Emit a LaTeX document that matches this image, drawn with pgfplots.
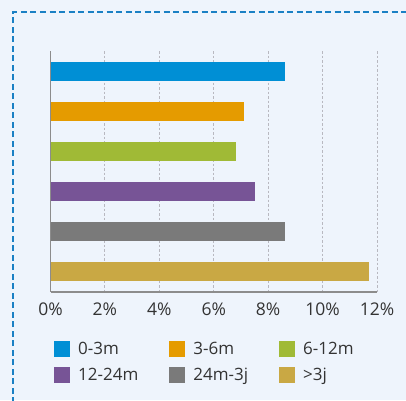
\documentclass[border=0pt]{standalone}
\usepackage{fontspec}
\setmainfont{Open Sans}
\usepackage{pgfplots}
\pgfplotsset{compat=1.18}
\definecolor{bg}{HTML}{EEF4FC}
\definecolor{border}{HTML}{1A80C4}
\definecolor{cA}{HTML}{008FD5}
\definecolor{cB}{HTML}{E59B00}
\definecolor{cC}{HTML}{A0BA36}
\definecolor{cD}{HTML}{775496}
\definecolor{cE}{HTML}{7A7A7A}
\definecolor{cF}{HTML}{C9A844}
\definecolor{gridc}{HTML}{B8B8C0}
\definecolor{axc}{HTML}{8C8C8C}
\definecolor{txt}{HTML}{333333}
\begin{document}
\begin{tikzpicture}
\clip (-50.5pt,-108pt) rectangle (355.5pt,292pt);
\fill[bg] (-50.5pt,-108pt) rectangle (355.5pt,292pt);
\draw[border, line width=1.6pt, dash pattern=on 6pt off 3.5pt] (-37.5pt,-130pt) -- (-37.5pt,280pt) -- (380pt,280pt);
\begin{axis}[
  at={(0,0)}, anchor=south west,
  scale only axis, width=326.5pt, height=241pt,
  xmin=0, xmax=12, ymin=-0.5, ymax=5.5,
  y dir=reverse,
  xtick={0,2,4,6,8,10,12},
  xticklabel={\pgfmathprintnumber{\tick}\%},
  ytick=\empty,
  major tick length=0pt,
  axis x line*=bottom, axis y line*=left,
  axis line style={-, axc, line width=1.2pt},
  xmajorgrids,
  major grid style={gridc, line width=0.9pt, dash pattern=on 2.5pt off 2pt},
  /pgf/number format/assume math mode=true,
  tick label style={font=\fontsize{17.5}{20}\selectfont, text=txt},
  xticklabel style={yshift=-7pt},
  bar width=19pt,
  legend columns=3,
  legend cell align=left,
  legend style={at={(0,0)}, anchor=north west, xshift=3.5pt, yshift=-48pt,
    draw=none, fill=none, inner sep=0pt,
    font=\fontsize{17}{20}\selectfont, text=txt,
    row sep=8pt,
    /tikz/every odd column/.append style={column sep=6pt},
    /tikz/every even column/.append style={column sep=29pt}},
  legend image code/.code={\fill[#1] (0pt,-8pt) rectangle (16pt,8pt);},
]
\addplot[xbar, fill=cA, draw=none, bar shift=0pt] coordinates {(8.62,0)};
\addlegendentry{0-3m}
\addplot[xbar, fill=cB, draw=none, bar shift=0pt] coordinates {(7.11,1)};
\addlegendentry{3-6m}
\addplot[xbar, fill=cC, draw=none, bar shift=0pt] coordinates {(6.82,2)};
\addlegendentry{6-12m}
\addplot[xbar, fill=cD, draw=none, bar shift=0pt] coordinates {(7.52,3)};
\addlegendentry{12-24m}
\addplot[xbar, fill=cE, draw=none, bar shift=0pt] coordinates {(8.62,4)};
\addlegendentry{24m-3j}
\addplot[xbar, fill=cF, draw=none, bar shift=0pt] coordinates {(11.71,5)};
\addlegendentry{>3j}
\end{axis}
\end{tikzpicture}
\end{document}
